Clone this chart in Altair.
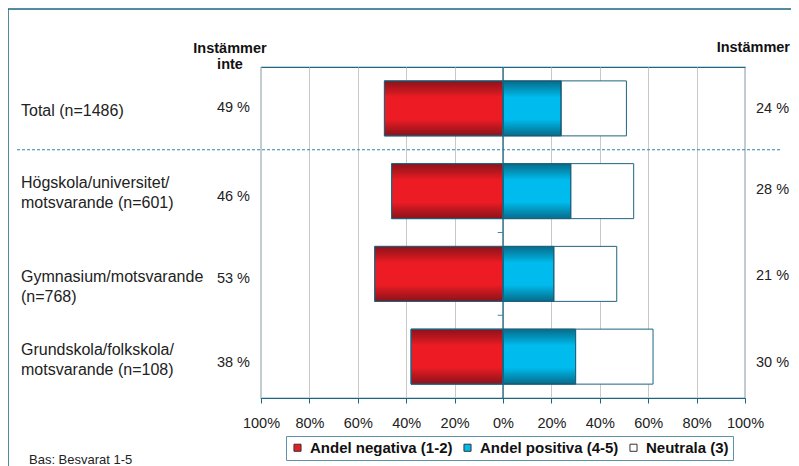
import altair as alt
import pandas as pd

# ---- data ----
keys = ["total", "hogskola", "gymnasium", "grundskola"]
cat_labels = [
    "Total (n=1486)",
    "Högskola/universitet/\nmotsvarande (n=601)",
    "Gymnasium/motsvarande\n(n=768)",
    "Grundskola/folkskola/\nmotsvarande (n=108)",
]
negative = [49, 46, 53, 38]
positive = [24, 28, 21, 30]
neutral = [27, 26, 26, 32]
series = ["Andel negativa (1-2)", "Andel positiva (4-5)", "Neutrala (3)"]
colors = ["#ed1c24", "#00bcee", "#ffffff"]
x_ticks = [-100, -80, -60, -40, -20, 0, 20, 40, 60, 80, 100]

# ---- layout (pixel nudges of the text labels, as in the original) ----
cat_dy = [3, -8, 3, -7]
neg_dy = [0, 6, 5, 6]
pos_dy = [1, -1, 2, 6]

FRAME = "#1d6580"
FONT = "Liberation Sans"

rows = []
for k, n, p, u in zip(keys, negative, positive, neutral):
    rows.append({"key": k, "series": series[0], "start": -n, "end": 0})
    rows.append({"key": k, "series": series[1], "start": 0, "end": p})
    rows.append({"key": k, "series": series[2], "start": p, "end": p + u})
bars_df = pd.DataFrame(rows)

lab_df = pd.DataFrame({
    "key": keys,
    "label": cat_labels,
    "neg_txt": [f"{v} %" for v in negative],
    "pos_txt": [f"{v} %" for v in positive],
})

yscale = alt.Scale(domain=keys, paddingInner=0, paddingOuter=0)
Y = alt.Y("key:N", sort=keys, scale=yscale, axis=None)
xscale = alt.Scale(domain=[-100, 100], nice=False)

bars = alt.Chart(bars_df).mark_bar(size=55, stroke=FRAME, strokeWidth=1).encode(
    x=alt.X("start:Q", scale=xscale, title=None,
            axis=alt.Axis(values=x_ticks, labelExpr="abs(datum.value) + '%'",
                          labelOverlap=False, labelFlush=False,
                          grid=True, gridColor="#c9c9c9", gridWidth=1,
                          domainColor=FRAME, tickColor=FRAME, tickSize=5,
                          labelFontSize=14.5, labelColor="#222", labelPadding=13,
                          labelFont=FONT)),
    x2="end:Q",
    y=Y,
    color=alt.Color("series:N", scale=alt.Scale(domain=series, range=colors),
                    legend=alt.Legend(orient="none", legendX=25, legendY=369,
                                      direction="horizontal", title=None,
                                      symbolType="square", symbolSize=50,
                                      symbolStrokeColor="#333", symbolStrokeWidth=1,
                                      labelFontSize=15, labelFontWeight="bold",
                                      labelColor="#111", labelFont=FONT,
                                      strokeColor="#5d93aa", padding=4,
                                      columnPadding=7, labelOffset=5)),
)

shade = alt.Gradient(
    gradient="linear", x1=0, x2=0, y1=0, y2=1,
    stops=[
        alt.GradientStop(offset=0, color="rgba(20,10,20,0.45)"),
        alt.GradientStop(offset=0.3, color="rgba(0,0,0,0)"),
        alt.GradientStop(offset=0.7, color="rgba(0,0,0,0)"),
        alt.GradientStop(offset=1, color="rgba(20,10,20,0.45)"),
    ],
)
overlay = alt.Chart(bars_df).transform_filter(
    alt.FieldOneOfPredicate(field="series", oneOf=series[:2])
).mark_bar(size=55, stroke=FRAME, strokeWidth=1).encode(
    x=alt.X("start:Q", scale=xscale), x2="end:Q", y=Y, color=alt.value(shade)
)

one = pd.DataFrame({"v": [0]})
center = alt.Chart(one).mark_rule(color=FRAME, strokeWidth=1.3).encode(x=alt.datum(0, scale=xscale))

small_ticks = alt.Chart(pd.DataFrame({"key": keys[2:]})).mark_rule(color="#3f8aa6", strokeWidth=1).encode(
    x=alt.datum(-2.2), x2=alt.datum(0),
    y=alt.Y("key:N", sort=keys, scale=yscale, axis=None, bandPosition=0),
)

dashed = alt.Chart(pd.DataFrame({"key": [keys[1]]})).mark_rule(
    color="#2a86a3", strokeWidth=1, strokeDash=[3, 2]
).encode(
    y=alt.Y("key:N", sort=keys, scale=yscale, axis=None, bandPosition=0),
    x=alt.value(-244), x2=alt.value(520),
)

frame_left = alt.Chart(one).mark_rule(color=FRAME, strokeWidth=1.5).encode(
    x=alt.value(-253), y=alt.value(-58), y2=alt.value(400))
frame_top = alt.Chart(one).mark_rule(color=FRAME, strokeWidth=1.5).encode(
    y=alt.value(-58), x=alt.value(-253), x2=alt.value(545))

text_layers = []
for i, k in enumerate(keys):
    sub = alt.Chart(lab_df).transform_filter(alt.datum.key == k)
    text_layers.append(sub.mark_text(
        align="left", baseline="middle", lineBreak="\n", fontSize=16, lineHeight=20,
        font=FONT, color="#222", dy=cat_dy[i]
    ).encode(y=Y, x=alt.value(-240), text="label:N"))
    text_layers.append(sub.mark_text(
        align="right", baseline="middle", fontSize=14.5, font=FONT, color="#222",
        dy=neg_dy[i]
    ).encode(y=Y, x=alt.value(-11), text="neg_txt:N"))
    text_layers.append(sub.mark_text(
        align="left", baseline="middle", fontSize=14.5, font=FONT, color="#222",
        dy=pos_dy[i]
    ).encode(y=Y, x=alt.value(495), text="pos_txt:N"))

head_left = alt.Chart(pd.DataFrame({"t": ["Instämmer\ninte"]})).mark_text(
    align="center", baseline="middle", lineBreak="\n", fontSize=14.5, lineHeight=16,
    fontWeight="bold", font=FONT, color="#111"
).encode(x=alt.value(-31), y=alt.value(-18), text="t:N")
head_right = alt.Chart(pd.DataFrame({"t": ["Instämmer"]})).mark_text(
    align="right", baseline="middle", fontSize=14.5,
    fontWeight="bold", font=FONT, color="#111"
).encode(x=alt.value(529), y=alt.value(-19), text="t:N")

bas = alt.Chart(pd.DataFrame({"t": ["Bas: Besvarat 1-5"]})).mark_text(
    align="left", baseline="middle", fontSize=13, font=FONT, color="#222"
).encode(x=alt.value(-232), y=alt.value(393), text="t:N")

chart = alt.layer(
    bars, overlay, center, small_ticks, dashed, frame_left, frame_top,
    *text_layers, head_left, head_right, bas
).properties(
    width=484, height=331,
    padding={"left": 253, "top": 59, "right": 46, "bottom": 68},
    autosize=alt.AutoSizeParams(type="none"),
).configure_view(stroke=FRAME, strokeWidth=1.2)

chart.save("out.html", embed_options={"renderer": "svg", "actions": False})
